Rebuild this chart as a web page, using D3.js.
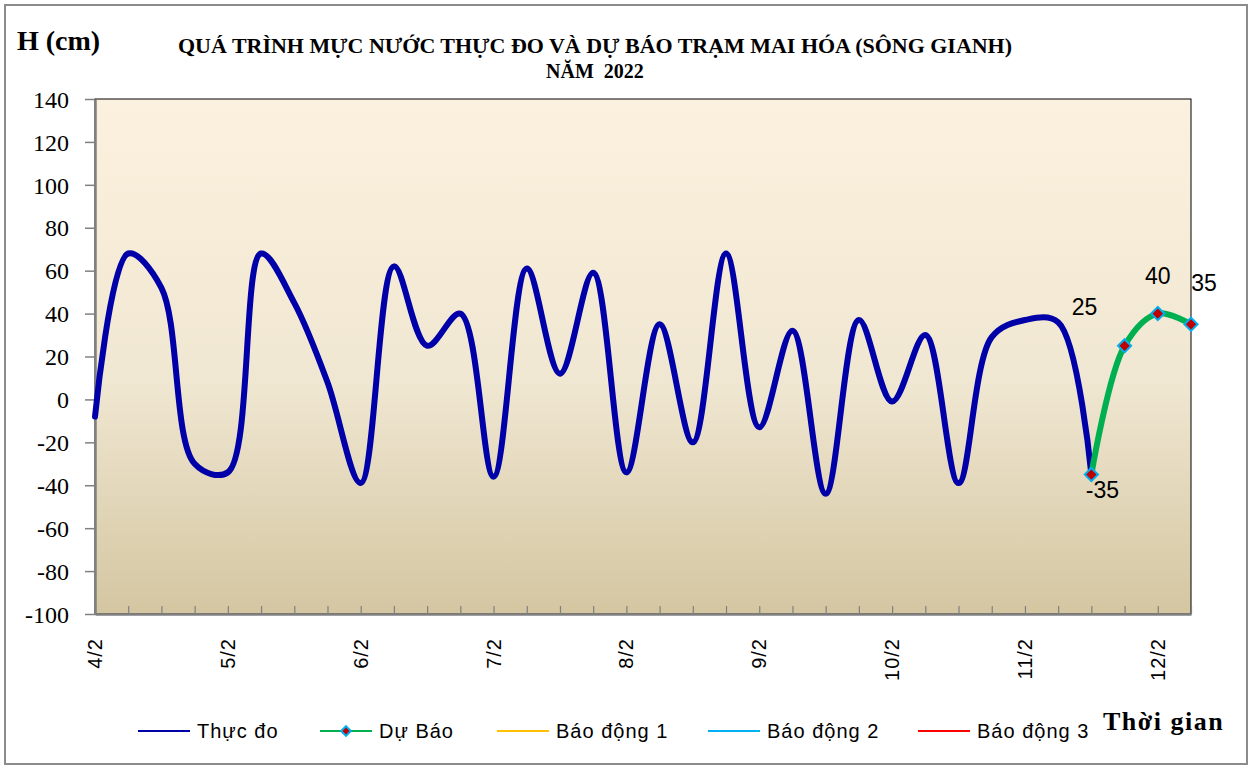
<!DOCTYPE html>
<html>
<head>
<meta charset="utf-8">
<script src="https://cdn.jsdelivr.net/npm/d3@7"></script>
<style>
  body { margin: 0; background: #fff; }
</style>
</head>
<body>
<svg id="chart"></svg>
<script>
const width = 1253;
const height = 769;

// Ngày (nhãn trục X) và các mốc giờ trong ngày (mỗi 6 giờ)
const dayLabels = ['4/2', '5/2', '6/2', '7/2', '8/2', '9/2', '10/2', '11/2', '12/2'];
const hours = [0, 6, 12, 18];
const yTicks = [-100, -80, -60, -40, -20, 0, 20, 40, 60, 80, 100, 120, 140];

// Thực đo: từ 4/2 0h tới 11/2 12h
const observed = [-8, 68, 52, -30, -34, 68, 45, 8, -39, 62, 25, 40, -36, 61, 12, 59,
  -34, 35, -20, 68, -13, 32, -44, 37, -1, 30, -39, 29, 37, 36, -35];
// Dự báo: từ 11/2 12h tới 12/2 6h
const forecast = [-35, 25, 40, 35];

const legendItems = [
  { name: 'Thực đo', color: '#0000a8', marker: false },
  { name: 'Dự Báo', color: '#00b050', marker: true },
  { name: 'Báo động 1', color: '#ffc000', marker: false },
  { name: 'Báo động 2', color: '#00b0f0', marker: false },
  { name: 'Báo động 3', color: '#ff0000', marker: false }
];

// danh sách mốc thời gian (category)
const slots = [];
dayLabels.forEach(d => hours.forEach(h => slots.push(d + ' ' + h + 'h')));
const cats = slots.slice(0, observed.length + forecast.length - 1);
const fcStart = observed.length - 1;

const plot = { left: 95, right: 1191, top: 99, bottom: 614 };
const serif = '"Liberation Serif", "Times New Roman", serif';

const svg = d3.select('#chart')
    .attr('width', width)
    .attr('height', height)
    .style('font-family', '"Liberation Sans", Arial, sans-serif');

// khung ngoài
svg.append('rect')
    .attr('x', 5).attr('y', 5)
    .attr('width', width - 11).attr('height', height - 10)
    .attr('fill', '#fff')
    .attr('stroke', '#8c8c8c')
    .attr('stroke-width', 2);

const defs = svg.append('defs');
const grad = defs.append('linearGradient')
    .attr('id', 'bg')
    .attr('x1', 0).attr('y1', 0).attr('x2', 0).attr('y2', 1);
grad.append('stop').attr('offset', '0%').attr('stop-color', '#fcf1de');
grad.append('stop').attr('offset', '55%').attr('stop-color', '#f0e7d2');
grad.append('stop').attr('offset', '100%').attr('stop-color', '#d4c6a1');

const x = d3.scalePoint()
    .domain(cats)
    .range([plot.left, plot.right]);

const y = d3.scaleLinear()
    .domain([-100, 140])
    .range([plot.bottom, plot.top]);

// nền vùng vẽ
svg.append('rect')
    .attr('x', plot.left).attr('y', plot.top)
    .attr('width', plot.right - plot.left)
    .attr('height', plot.bottom - plot.top)
    .attr('fill', 'url(#bg)')
    .attr('stroke', '#000')
    .attr('stroke-width', 1);

// trục Y
const yAxis = svg.append('g')
    .attr('transform', `translate(${plot.left},0)`)
    .call(d3.axisLeft(y).tickValues(yTicks).tickSize(10).tickPadding(16)
        .tickSizeOuter(0).tickFormat(d => String(d)));
yAxis.attr('font-family', null).attr('font-size', null);
yAxis.select('.domain').attr('stroke', '#808080').attr('stroke-width', 2.5);
yAxis.selectAll('.tick line').attr('stroke', '#808080').attr('stroke-width', 1.5);
yAxis.selectAll('.tick text')
    .attr('fill', '#000')
    .attr('dy', '0.34em')
    .style('font-family', serif)
    .style('font-size', '24px');

// trục X
const xAxis = svg.append('g')
    .attr('transform', `translate(0,${plot.bottom})`)
    .call(d3.axisBottom(x).tickSize(-8).tickSizeOuter(0).tickFormat(() => ''));
xAxis.select('.domain').attr('stroke', '#808080').attr('stroke-width', 2.5);
xAxis.selectAll('.tick line').attr('stroke', '#808080').attr('stroke-width', 1.2);

svg.append('g')
    .selectAll('text')
    .data(cats.filter(c => c.endsWith(' 0h')))
    .enter().append('text')
    .attr('transform', d => `translate(${x(d) + 7},638) rotate(-90)`)
    .attr('text-anchor', 'end')
    .style('font-size', '20px')
    .style('letter-spacing', '1px')
    .text(d => d.split(' ')[0]);

// đường
const line = d3.line()
    .x(d => x(d.cat))
    .y(d => y(d.value))
    .curve(d3.curveCatmullRom.alpha(0.5));

const obsData = observed.map((v, i) => ({ cat: cats[i], value: v }));
const fcData = forecast.map((v, i) => ({ cat: cats[fcStart + i], value: v }));

svg.append('path')
    .datum(obsData)
    .attr('d', line)
    .attr('fill', 'none')
    .attr('stroke', '#0000a8')
    .attr('stroke-width', 6)
    .attr('stroke-linejoin', 'round')
    .attr('stroke-linecap', 'round');

svg.append('path')
    .datum(fcData)
    .attr('d', line)
    .attr('fill', 'none')
    .attr('stroke', '#00b050')
    .attr('stroke-width', 6)
    .attr('stroke-linejoin', 'round');

const diamond = d3.symbol().type(d3.symbolDiamond2).size(110);

svg.append('g')
    .selectAll('path')
    .data(fcData)
    .enter().append('path')
    .attr('transform', d => `translate(${x(d.cat)},${y(d.value)})`)
    .attr('d', diamond)
    .attr('fill', '#c00000')
    .attr('stroke', '#00b0f0')
    .attr('stroke-width', 2);

// nhãn dữ liệu dự báo
const labelOffsets = [[11, 23], [-40, -31], [0, -30], [13, -33]];
svg.append('g')
    .selectAll('text')
    .data(fcData)
    .enter().append('text')
    .attr('x', (d, i) => x(d.cat) + labelOffsets[i][0])
    .attr('y', (d, i) => y(d.value) + labelOffsets[i][1])
    .attr('text-anchor', 'middle')
    .style('font-size', '23px')
    .text(d => d.value);

// tiêu đề
svg.append('text')
    .attr('x', 595).attr('y', 53)
    .attr('text-anchor', 'middle')
    .attr('textLength', 834)
    .attr('lengthAdjust', 'spacingAndGlyphs')
    .style('font-family', serif)
    .style('font-weight', 'bold')
    .style('font-size', '20px')
    .text('QUÁ TRÌNH MỰC NƯỚC THỰC ĐO VÀ DỰ BÁO  TRẠM MAI HÓA (SÔNG GIANH)');

svg.append('text')
    .attr('x', 595).attr('y', 78)
    .attr('text-anchor', 'middle')
    .style('font-family', serif)
    .style('font-weight', 'bold')
    .style('font-size', '20px')
    .style('white-space', 'pre')
    .text('NĂM  2022');

svg.append('text')
    .attr('x', 17).attr('y', 50)
    .style('font-family', serif)
    .style('font-weight', 'bold')
    .style('font-size', '28px')
    .text('H (cm)');

svg.append('text')
    .attr('x', 1103).attr('y', 730)
    .style('font-family', serif)
    .style('font-weight', 'bold')
    .style('font-size', '26px')
    .style('letter-spacing', '1.5px')
    .text('Thời gian');

// chú giải
const legendX = [138, 320, 497, 708, 918];
const legend = svg.append('g')
    .selectAll('g')
    .data(legendItems)
    .enter().append('g')
    .attr('transform', (d, i) => `translate(${legendX[i]},731)`);

legend.append('line')
    .attr('x1', 0).attr('x2', 52)
    .attr('stroke', d => d.color)
    .attr('stroke-width', 2);

legend.filter(d => d.marker)
    .append('path')
    .attr('transform', 'translate(26,0)')
    .attr('d', d3.symbol().type(d3.symbolDiamond2).size(60))
    .attr('fill', '#c00000')
    .attr('stroke', '#00b0f0')
    .attr('stroke-width', 2);

legend.append('text')
    .attr('x', 59).attr('y', 7)
    .style('font-size', '20px')
    .style('letter-spacing', '1px')
    .text(d => d.name);
</script>
</body>
</html>
